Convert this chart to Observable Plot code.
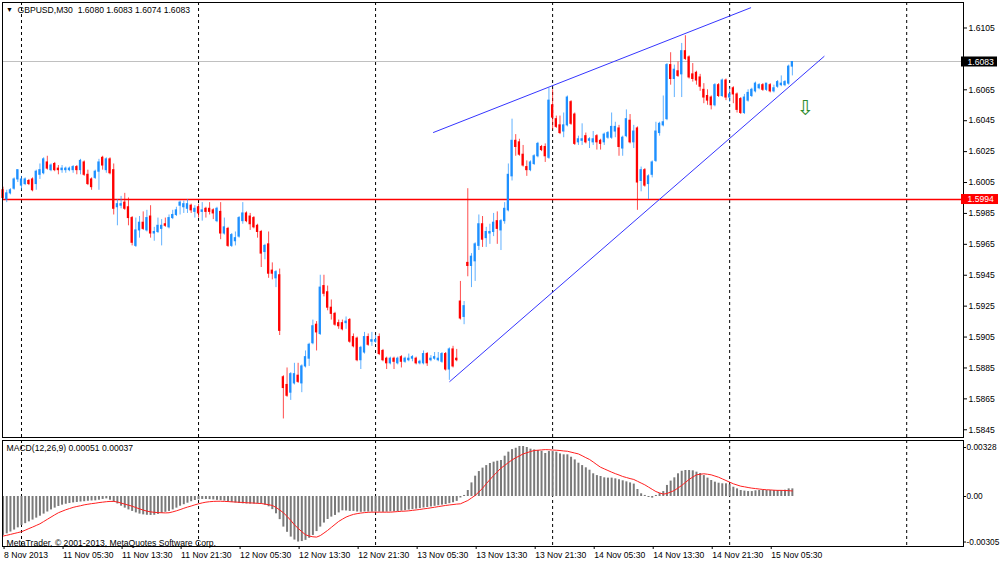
<!DOCTYPE html>
<html><head><meta charset="utf-8">
<script src="https://cdn.jsdelivr.net/npm/d3@7"></script>
<script src="https://cdn.jsdelivr.net/npm/@observablehq/plot@0.6"></script>
<style>
body{margin:0;background:#fff;}
#wrap{position:relative;width:1000px;height:564px;overflow:hidden;background:#fff;}
#main,#sub{position:absolute;left:0;}
#main{top:0;}
#sub{top:438px;}
</style></head><body>
<div id="wrap"><div id="main"></div><div id="sub"></div></div>
<script>
// ---- data: GBPUSD M30 candles, bar index 0 = first visible bar (8 Nov 2013 evening)
const open = [
1.6000,1.5994,1.5998,1.6001,1.6007,1.6003,1.6004,1.6006,1.6007,1.6004,
1.6010,1.6011,1.6018,1.6013,1.6017,1.6014,1.6013,1.6013,1.6013,1.6013,
1.6015,1.6013,1.6018,1.6010,1.6007,1.6008,1.6012,1.6021,1.6013,1.6020,
1.6013,1.5989,1.5990,1.5992,1.5989,1.5982,1.5964,1.5974,1.5979,1.5974,
1.5983,1.5972,1.5973,1.5975,1.5978,1.5976,1.5982,1.5984,1.5990,1.5989,
1.5988,1.5990,1.5986,1.5989,1.5986,1.5988,1.5988,1.5987,1.5980,1.5986,
1.5972,1.5975,1.5964,1.5967,1.5970,1.5980,1.5985,1.5983,1.5982,1.5977,
1.5973,1.5960,1.5965,1.5948,1.5943,1.5945,1.5879,1.5874,1.5869,1.5875,
1.5880,1.5875,1.5886,1.5891,1.5901,1.5913,1.5907,1.5938,1.5934,1.5924,
1.5920,1.5914,1.5914,1.5914,1.5916,1.5905,1.5904,1.5890,1.5895,1.5905,
1.5902,1.5902,1.5905,1.5896,1.5891,1.5888,1.5891,1.5888,1.5892,1.5889,
1.5890,1.5891,1.5891,1.5888,1.5888,1.5894,1.5890,1.5891,1.5890,1.5889,
1.5894,1.5884,1.5897,1.5891,1.5928,1.5918,1.5953,1.5951,1.5954,1.5964,
1.5978,1.5969,1.5972,1.5973,1.5980,1.5974,1.5980,1.5987,1.6009,1.6032,
1.6031,1.6023,1.6015,1.6013,1.6017,1.6022,1.6028,1.6028,1.6021,1.6055,
1.6046,1.6042,1.6038,1.6042,1.6057,1.6049,1.6031,1.6032,1.6035,1.6032,
1.6031,1.6035,1.6032,1.6031,1.6034,1.6034,1.6038,1.6040,1.6027,1.6035,
1.6045,1.6031,1.6040,1.6006,1.6013,1.6004,1.6010,1.6019,1.6037,1.6042,
1.6046,1.6081,1.6072,1.6077,1.6075,1.6090,1.6086,1.6075,1.6076,1.6073,
1.6065,1.6061,1.6060,1.6055,1.6068,1.6061,1.6071,1.6060,1.6066,1.6062,
1.6059,1.6050,1.6058,1.6061,1.6064,1.6066,1.6068,1.6065,1.6068,1.6064,
1.6067,1.6068,1.6068,1.6069,1.6080];
const high = [
1.6002,1.6000,1.6001,1.6008,1.6013,1.6009,1.6008,1.6007,1.6008,1.6013,
1.6017,1.6021,1.6022,1.6017,1.6018,1.6016,1.6016,1.6015,1.6015,1.6016,
1.6016,1.6020,1.6019,1.6013,1.6008,1.6013,1.6020,1.6022,1.6021,1.6021,
1.6017,1.5994,1.5996,1.5998,1.5995,1.5983,1.5982,1.5983,1.5986,1.5987,
1.5990,1.5976,1.5982,1.5981,1.5982,1.5984,1.5987,1.5989,1.5993,1.5993,
1.5994,1.5991,1.5990,1.5991,1.5992,1.5989,1.5992,1.5988,1.5989,1.5992,
1.5982,1.5976,1.5972,1.5973,1.5983,1.5992,1.5986,1.5985,1.5983,1.5978,
1.5974,1.5965,1.5973,1.5953,1.5948,1.5949,1.5880,1.5885,1.5882,1.5888,
1.5888,1.5887,1.5896,1.5901,1.5916,1.5915,1.5945,1.5945,1.5938,1.5929,
1.5921,1.5916,1.5916,1.5918,1.5917,1.5907,1.5905,1.5899,1.5908,1.5907,
1.5908,1.5906,1.5907,1.5897,1.5892,1.5892,1.5892,1.5892,1.5893,1.5892,
1.5894,1.5893,1.5892,1.5890,1.5896,1.5895,1.5893,1.5895,1.5895,1.5895,
1.5895,1.5898,1.5899,1.5897,1.5941,1.5928,1.6001,1.5959,1.5966,1.5984,
1.5983,1.5976,1.5978,1.5985,1.5986,1.5981,1.5992,1.6017,1.6046,1.6036,
1.6033,1.6029,1.6019,1.6019,1.6023,1.6031,1.6029,1.6030,1.6066,1.6065,
1.6048,1.6048,1.6050,1.6061,1.6058,1.6050,1.6035,1.6043,1.6037,1.6034,
1.6038,1.6036,1.6033,1.6037,1.6038,1.6050,1.6044,1.6042,1.6035,1.6052,
1.6049,1.6042,1.6041,1.6015,1.6014,1.6010,1.6019,1.6044,1.6044,1.6061,
1.6082,1.6089,1.6081,1.6083,1.6095,1.6100,1.6087,1.6082,1.6077,1.6075,
1.6069,1.6065,1.6061,1.6069,1.6069,1.6072,1.6072,1.6066,1.6067,1.6063,
1.6060,1.6062,1.6065,1.6066,1.6070,1.6069,1.6069,1.6069,1.6069,1.6068,
1.6071,1.6074,1.6071,1.6081,1.6083];
const low = [
1.5994,1.5992,1.5997,1.6000,1.6005,1.6000,1.6003,1.6003,1.5999,1.6000,
1.6007,1.6010,1.6013,1.6012,1.6012,1.6010,1.6011,1.6011,1.6012,1.6011,
1.6010,1.6010,1.6009,1.6003,1.6000,1.6007,1.6000,1.6013,1.6011,1.6010,
1.5984,1.5977,1.5988,1.5987,1.5977,1.5964,1.5963,1.5969,1.5974,1.5973,
1.5969,1.5967,1.5972,1.5964,1.5976,1.5975,1.5981,1.5983,1.5984,1.5985,
1.5985,1.5985,1.5982,1.5982,1.5980,1.5982,1.5984,1.5981,1.5979,1.5968,
1.5971,1.5963,1.5963,1.5964,1.5969,1.5978,1.5979,1.5974,1.5975,1.5969,
1.5950,1.5955,1.5943,1.5942,1.5937,1.5906,1.5852,1.5866,1.5864,1.5874,
1.5875,1.5869,1.5885,1.5886,1.5900,1.5896,1.5906,1.5931,1.5922,1.5916,
1.5912,1.5910,1.5909,1.5910,1.5901,1.5898,1.5889,1.5884,1.5894,1.5899,
1.5899,1.5901,1.5893,1.5889,1.5884,1.5887,1.5884,1.5887,1.5885,1.5888,
1.5889,1.5889,1.5887,1.5887,1.5887,1.5886,1.5889,1.5890,1.5889,1.5888,
1.5883,1.5877,1.5885,1.5889,1.5916,1.5913,1.5944,1.5937,1.5941,1.5961,
1.5963,1.5963,1.5965,1.5970,1.5965,1.5961,1.5978,1.5986,1.6006,1.6022,
1.6022,1.6015,1.6009,1.6012,1.6016,1.6021,1.6025,1.6018,1.6020,1.6039,
1.6040,1.6036,1.6034,1.6041,1.6042,1.6029,1.6029,1.6029,1.6030,1.6027,
1.6029,1.6026,1.6026,1.6029,1.6033,1.6033,1.6034,1.6022,1.6022,1.6034,
1.6030,1.6027,1.5987,1.5999,1.6002,1.5994,1.6008,1.6018,1.6035,1.6041,
1.6045,1.6068,1.6060,1.6073,1.6060,1.6084,1.6072,1.6070,1.6068,1.6064,
1.6056,1.6055,1.6052,1.6054,1.6060,1.6060,1.6058,1.6057,1.6056,1.6050,
1.6049,1.6049,1.6057,1.6060,1.6063,1.6065,1.6064,1.6064,1.6063,1.6063,
1.6066,1.6067,1.6067,1.6068,1.6074];
const close = [
1.5995,1.5998,1.6000,1.6007,1.6013,1.6007,1.6007,1.6004,1.6000,1.6012,
1.6013,1.6020,1.6014,1.6016,1.6013,1.6013,1.6014,1.6014,1.6014,1.6015,
1.6013,1.6019,1.6010,1.6004,1.6002,1.6012,1.6018,1.6016,1.6020,1.6011,
1.5988,1.5991,1.5991,1.5988,1.5982,1.5966,1.5974,1.5979,1.5975,1.5982,
1.5972,1.5973,1.5977,1.5977,1.5977,1.5982,1.5984,1.5987,1.5992,1.5991,
1.5991,1.5987,1.5988,1.5985,1.5987,1.5986,1.5986,1.5985,1.5988,1.5972,
1.5976,1.5964,1.5971,1.5969,1.5982,1.5985,1.5980,1.5978,1.5976,1.5973,
1.5959,1.5964,1.5946,1.5946,1.5947,1.5909,1.5872,1.5867,1.5881,1.5881,
1.5876,1.5886,1.5892,1.5900,1.5912,1.5908,1.5937,1.5933,1.5924,1.5920,
1.5913,1.5912,1.5910,1.5915,1.5902,1.5899,1.5890,1.5898,1.5905,1.5900,
1.5903,1.5903,1.5894,1.5890,1.5888,1.5891,1.5889,1.5891,1.5889,1.5891,
1.5891,1.5892,1.5888,1.5889,1.5894,1.5888,1.5891,1.5892,1.5891,1.5894,
1.5884,1.5897,1.5886,1.5890,1.5917,1.5925,1.5951,1.5957,1.5965,1.5978,
1.5968,1.5973,1.5973,1.5979,1.5975,1.5980,1.5988,1.6010,1.6032,1.6028,
1.6023,1.6016,1.6013,1.6018,1.6022,1.6030,1.6026,1.6022,1.6058,1.6047,
1.6041,1.6037,1.6042,1.6060,1.6043,1.6030,1.6033,1.6033,1.6031,1.6033,
1.6033,1.6031,1.6030,1.6036,1.6037,1.6041,1.6041,1.6028,1.6034,1.6046,
1.6031,1.6038,1.6005,1.6013,1.6003,1.6009,1.6018,1.6038,1.6043,1.6044,
1.6081,1.6072,1.6078,1.6074,1.6090,1.6085,1.6073,1.6072,1.6071,1.6067,
1.6060,1.6058,1.6055,1.6068,1.6061,1.6071,1.6060,1.6062,1.6062,1.6052,
1.6050,1.6060,1.6063,1.6065,1.6069,1.6068,1.6065,1.6069,1.6064,1.6066,
1.6070,1.6069,1.6070,1.6080,1.6083];

// MACD(12,26,9): main value and signal, in units of 0.00001
const macdMain = [
-261,-250,-238,-225,-210,-194,-182,-170,-158,-145,
-132,-118,-104,-90,-78,-67,-58,-52,-47,-43,
-40,-37,-35,-32,-30,-29,-25,-20,-16,-25,
-38,-50,-65,-78,-90,-100,-110,-118,-123,-126,
-127,-126,-120,-113,-106,-100,-90,-78,-65,-55,
-45,-35,-27,-22,-20,-20,-21,-23,-26,-28,
-31,-35,-40,-44,-47,-49,-50,-51,-51,-50,
-51,-58,-69,-88,-116,-155,-205,-240,-272,-292,
-305,-302,-294,-280,-261,-235,-205,-178,-154,-138,
-127,-110,-96,-97,-100,-100,-104,-106,-104,-104,
-105,-104,-105,-106,-105,-103,-102,-101,-98,-95,
-91,-88,-85,-81,-77,-74,-70,-66,-62,-58,
-54,-48,-42,-33,-10,7,40,91,136,167,
190,207,221,230,236,241,270,297,314,323,
335,335,328,317,312,308,303,288,301,301,
297,285,279,279,263,245,223,207,192,176,
152,140,134,125,123,123,118,112,105,98,
91,83,47,18,7,-7,-11,7,20,33,
74,103,125,152,169,174,174,172,163,154,
140,123,107,96,89,85,85,78,62,51,
40,36,33,33,38,40,40,40,40,40,
40,40,42,51,51];
const macdSignal = [
-265,-260,-254,-248,-242,-236,-226,-215,-205,-194,
-183,-168,-153,-138,-123,-109,-99,-89,-81,-73,
-67,-62,-56,-52,-48,-45,-41,-38,-35,-33,
-33,-37,-44,-51,-58,-65,-74,-83,-91,-98,
-103,-106,-108,-109,-110,-109,-103,-96,-88,-79,
-71,-64,-56,-49,-43,-38,-35,-33,-32,-32,
-33,-34,-36,-37,-39,-40,-42,-43,-44,-46,
-47,-51,-55,-60,-73,-90,-109,-133,-160,-190,
-213,-236,-256,-265,-270,-272,-262,-245,-227,-207,
-187,-167,-152,-138,-128,-120,-115,-111,-108,-106,
-105,-105,-105,-105,-105,-105,-103,-101,-99,-98,
-96,-93,-90,-87,-83,-80,-76,-72,-68,-64,
-60,-57,-54,-51,-49,-38,-27,-10,7,30,
55,85,113,140,165,190,208,227,245,259,
272,285,293,301,308,310,312,314,313,311,
310,308,305,303,297,291,285,273,260,248,
231,213,196,185,174,163,153,144,134,127,
120,114,102,90,78,63,48,33,24,16,
20,30,40,57,74,94,114,130,145,149,
152,149,145,137,129,118,107,96,85,77,
69,65,60,56,53,50,47,45,44,42,
41,41,40,39,37];
const macdUnit = 0.00001;

// time axis
const timeLabels = ["8 Nov 2013","11 Nov 05:30","11 Nov 13:30","11 Nov 21:30","12 Nov 05:30","12 Nov 13:30","12 Nov 21:30","13 Nov 05:30","13 Nov 13:30","13 Nov 21:30","14 Nov 05:30","14 Nov 13:30","14 Nov 21:30","15 Nov 05:30"];
const timeLabelBars = [0,16,32,48,64,80,96,112,128,144,160,176,192,208];
const daySeparatorBars = [5,53,101,149,197,245]; // 00:00 of 11..16 Nov

// price axis (1.6085 lies under the bid label)
const priceTicks = [1.6105,1.6065,1.6045,1.6025,1.6005,1.5985,1.5965,1.5945,1.5925,1.5905,1.5885,1.5865,1.5845];
const bidPrice = 1.6083;
const levelPrice = 1.5994;
const macdTicks = [0.00328, 0, -0.00305];
const macdTickLabels = ["0.00328","0.00","-0.00305"];

// drawn objects (bar index, price)
const upperTrend = [{i:116.7, p:1.60374},{i:202.7, p:1.61181}];
const lowerTrend = [{i:121.1, p:1.58762},{i:222.6, p:1.60866}];
const sellArrow = [{i:217.6, p:1.60529}];

const titleText = "GBPUSD,M30  1.6080 1.6083 1.6074 1.6083";
const macdText = "MACD(12,26,9) 0.00051 0.00037";
const copyText = "MetaTrader, \u00A9 2001-2013, MetaQuotes Software Corp.";

// ---- chart
const bull = "#1E90FF", bear = "#FF0000";
const font = "'Liberation Sans', Arial, sans-serif";
const fs = 8.6;
const xDomain = [-0.15, 260.4];
const candles = open.map((o, i) => ({i, open: o, high: high[i], low: low[i], close: close[i]}));
const ups = candles.filter(d => d.close >= d.open);
const downs = candles.filter(d => d.close < d.open);
const fmt4 = d3.format(".4f");
const halfBody = 0.31;

const main = Plot.plot({
  width: 1000, height: 438,
  marginLeft: 2, marginRight: 37, marginTop: 2, marginBottom: 1,
  x: {domain: xDomain, axis: null},
  y: {domain: [1.58400, 1.61215], axis: null},
  style: {fontFamily: font, fontSize: fs + "px", background: "transparent", color: "black", overflow: "visible"},
  marks: [
    Plot.ruleY([bidPrice], {y: d => d, stroke: "#c0c0c0", strokeWidth: 1, shapeRendering: "crispEdges"}),
    Plot.ruleX(daySeparatorBars, {x: d => d, stroke: "black", strokeDasharray: "3,3"}),
    Plot.ruleY([levelPrice], {y: d => d, stroke: "#ff0000", strokeWidth: 1.5}),
    Plot.line(upperTrend, {x: "i", y: "p", stroke: "#3535ff", strokeWidth: 1}),
    Plot.line(lowerTrend, {x: "i", y: "p", stroke: "#3535ff", strokeWidth: 1}),
    Plot.ruleX(ups, {x: "i", y1: "low", y2: "high", stroke: bull, strokeOpacity: 0.7}),
    Plot.ruleX(downs, {x: "i", y1: "low", y2: "high", stroke: bear, strokeOpacity: 0.7}),
    Plot.rect(ups, {x1: d => d.i - halfBody, x2: d => d.i + halfBody, y1: "open", y2: "close", fill: bull, insetTop: -0.5, insetBottom: -0.5}),
    Plot.rect(downs, {x1: d => d.i - halfBody, x2: d => d.i + halfBody, y1: "open", y2: "close", fill: bear, insetTop: -0.5, insetBottom: -0.5}),
    Plot.text(sellArrow, {x: "i", y: "p", text: () => "\u21E9", fill: "#2e8b2e", fontSize: 21, fontFamily: "DejaVu Sans"}),
    Plot.frame({stroke: "black"}),
    Plot.axisY({anchor: "right", ticks: priceTicks, tickFormat: fmt4, tickSize: 3, tickPadding: 2, fontSize: fs, label: null}),
    Plot.rect([bidPrice], {x1: xDomain[1], x2: xDomain[1], y1: d => d, y2: d => d, fill: "black", insetLeft: -2, insetRight: -34, insetTop: -5, insetBottom: -5}),
    Plot.text([bidPrice], {x: xDomain[1], y: d => d, text: d => fmt4(d), fill: "white", textAnchor: "start", dx: 4, fontSize: fs}),
    Plot.rect([levelPrice], {x1: xDomain[1], x2: xDomain[1], y1: d => d, y2: d => d, fill: "#ff0000", insetLeft: -2, insetRight: -35, insetTop: -5, insetBottom: -5}),
    Plot.text([levelPrice], {x: xDomain[1], y: d => d, text: d => fmt4(d), fill: "white", textAnchor: "start", dx: 4, fontSize: fs}),
    Plot.text(["\u25BC"], {frameAnchor: "top-left", dx: 7, dy: 5, lineAnchor: "top", textAnchor: "middle", fontSize: 7}),
    Plot.text([titleText], {frameAnchor: "top-left", dx: 15, dy: 4, lineAnchor: "top", textAnchor: "start", fontSize: fs})
  ]
});
document.getElementById("main").appendChild(main);

const macd = macdMain.map((v, i) => ({i, m: v * macdUnit, s: macdSignal[i] * macdUnit}));
const sub = Plot.plot({
  width: 1000, height: 126,
  marginLeft: 2, marginRight: 37, marginTop: 2, marginBottom: 18,
  x: {domain: xDomain, axis: null},
  y: {domain: [-0.00335, 0.00375], axis: null},
  style: {fontFamily: font, fontSize: fs + "px", background: "transparent", color: "black", overflow: "visible"},
  marks: [
    Plot.ruleX(daySeparatorBars, {x: d => d, stroke: "black", strokeDasharray: "3,3"}),
    Plot.ruleX(macd, {x: "i", y1: 0, y2: "m", stroke: "#7a7a7a", strokeWidth: 2}),
    Plot.line(macd, {x: "i", y: "s", stroke: "#ff2020", strokeWidth: 1}),
    Plot.frame({stroke: "black"}),
    Plot.axisY({anchor: "right", ticks: macdTicks, tickFormat: d => macdTickLabels[macdTicks.indexOf(d)], tickSize: 2, tickPadding: 1, fontSize: 8.3, label: null}),
    Plot.axisX({anchor: "bottom", ticks: timeLabelBars, tickFormat: d => timeLabels[timeLabelBars.indexOf(d)], tickSize: 3, tickPadding: 2, textAnchor: "start", dx: 1, fontSize: fs, label: null}),
    Plot.text([macdText], {frameAnchor: "top-left", dx: 4, dy: 4, lineAnchor: "top", textAnchor: "start", fontSize: fs}),
    Plot.text([copyText], {frameAnchor: "bottom-left", dx: 4, dy: -1, lineAnchor: "bottom", textAnchor: "start", fontSize: fs})
  ]
});
document.getElementById("sub").appendChild(sub);
</script>
</body></html>
